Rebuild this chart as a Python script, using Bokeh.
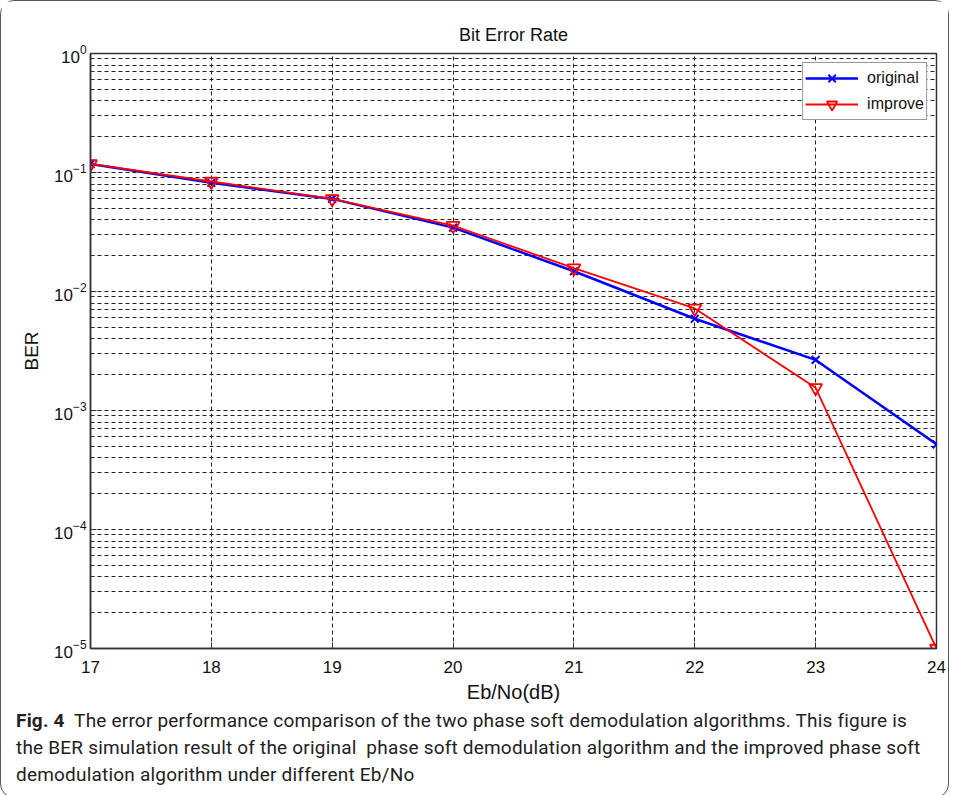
from bokeh.plotting import figure
from bokeh.models import Range1d, FixedTicker, Div, Legend, LegendItem
from bokeh.layouts import column
from bokeh.embed import file_html
from bokeh.resources import INLINE

# ---- data ----
ebno = [17, 18, 19, 20, 21, 22, 23, 24]
ber_original = [0.118, 0.082, 0.060, 0.0344, 0.0148, 0.0059, 0.00266, 0.00052]
ber_improve = [0.118, 0.084, 0.060, 0.0358, 0.0157, 0.0072, 0.00155, 0.00001]

x_ticks = [17, 18, 19, 20, 21, 22, 23, 24]
y_decades = [1e-5, 1e-4, 1e-3, 1e-2, 1e-1, 1e0]
y_minor = [m * d for d in y_decades[:-1] for m in [2, 3, 4, 5, 6, 7, 8, 9]]

title_text = "Bit Error Rate"
x_label = "Eb/No(dB)"
y_label = "BER"
legend_labels = ["original", "improve"]
caption_bold = "Fig. 4"
caption_lines = [
    "The error performance comparison of the two phase soft demodulation algorithms. This figure is",
    "the BER simulation result of the original&nbsp; phase soft demodulation algorithm and the improved phase soft",
    "demodulation algorithm under different Eb/No",
]

FONT = "Liberation Sans"

p = figure(
    width=947, height=704,
    x_range=Range1d(17, 24), y_range=Range1d(1e-5, 1),
    y_axis_type="log",
    output_backend="svg", toolbar_location=None,
    title=title_text,
    min_border_left=89, min_border_right=12, min_border_top=52, min_border_bottom=51,
    background_fill_color="white", border_fill_color="white",
    outline_line_color="#333333", outline_line_width=1.5,
)

p.title.align = "center"
p.title.text_font = FONT
p.title.text_font_size = "18px"
p.title.text_font_style = "normal"
p.title.text_color = "#111111"
p.title.standoff = 17

p.xaxis.ticker = FixedTicker(ticks=x_ticks)
p.yaxis.ticker = FixedTicker(ticks=y_decades, minor_ticks=y_minor)

for ax in (p.xaxis[0], p.yaxis[0]):
    ax.axis_line_color = "#333333"
    ax.axis_line_width = 1.5
    ax.major_tick_in = 6
    ax.major_tick_out = 0
    ax.minor_tick_in = 3
    ax.minor_tick_out = 0
    ax.major_tick_line_color = "#333333"
    ax.minor_tick_line_color = "#333333"
    ax.major_label_text_font = FONT
    ax.major_label_text_font_size = "17px"
    ax.major_label_text_color = "#111111"
    ax.axis_label_text_font = FONT
    ax.axis_label_text_font_style = "normal"
    ax.axis_label_text_color = "#111111"

p.xaxis.minor_tick_line_color = None
p.xaxis.axis_label = x_label
p.xaxis.axis_label_text_font_size = "20px"
p.xaxis.major_label_standoff = 12
p.xaxis.axis_label_standoff = 5
p.yaxis.axis_label = y_label
p.yaxis.axis_label_text_font_size = "19px"
p.yaxis.major_label_standoff = 4
p.yaxis.axis_label_standoff = 9

p.xgrid.grid_line_color = "#222222"
p.xgrid.grid_line_dash = "4 3"
p.xgrid.grid_line_width = 1
p.ygrid.grid_line_color = "#222222"
p.ygrid.grid_line_dash = "4 3"
p.ygrid.grid_line_width = 1
p.ygrid.minor_grid_line_color = "#222222"
p.ygrid.minor_grid_line_dash = "4 3"
p.ygrid.minor_grid_line_width = 1

l1 = p.line(ebno, ber_original, line_color="blue", line_width=2.5)
m1 = p.scatter(ebno, ber_original, marker="x", size=11, line_color="blue", line_width=2)
l2 = p.line(ebno, ber_improve, line_color="red", line_width=1.8)
m2 = p.scatter(ebno, ber_improve, marker="inverted_triangle", size=13,
               line_color="red", fill_color=None, line_width=1.8)

legend = Legend(
    items=[LegendItem(label=legend_labels[0], renderers=[l1, m1]),
           LegendItem(label=legend_labels[1], renderers=[l2, m2])],
    location="top_right",
    border_line_color="#333333", border_line_width=1,
    label_text_font=FONT, label_text_font_size="16px", label_text_color="#111111",
    glyph_width=53, glyph_height=26, spacing=0, padding=2, margin=9,
    label_standoff=9, background_fill_alpha=1.0,
)
p.add_layout(legend)

caption = Div(
    text=("<div style='font-family: Roboto, \"Noto Sans\", sans-serif; font-size:19px; "
          "line-height:27px; color:#222; white-space:nowrap; padding-left:10px; "
          "margin-top:-3px; letter-spacing:0.2px;'>"
          f"<b>{caption_bold}</b>&nbsp; {caption_lines[0]}<br>{caption_lines[1]}<br>{caption_lines[2]}"
          "</div>"),
    width=935, height=82,
)

layout = column(p, caption, spacing=0,
                styles={"border": "1.5px solid #555", "border-radius": "14px",
                        "background": "white"})

open("out.html", "w").write(file_html(layout, INLINE))
